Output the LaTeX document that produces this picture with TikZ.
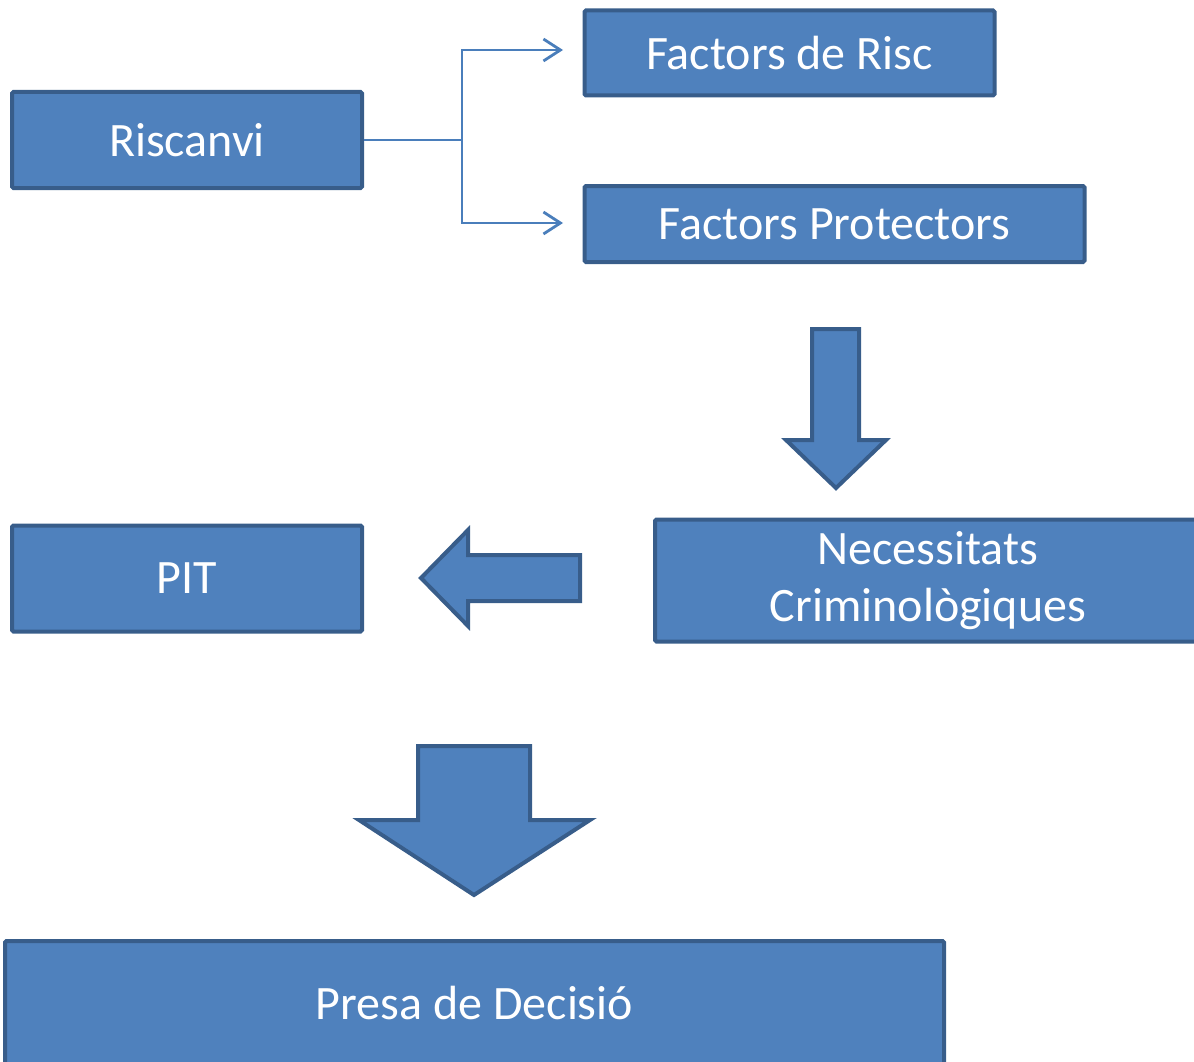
\documentclass[tikz,border=0pt]{standalone}
\usepackage{fontspec}
\setmainfont{Carlito}
\usetikzlibrary{arrows.meta}
\definecolor{boxfill}{HTML}{4F81BD}
\definecolor{boxline}{HTML}{385D8A}
\definecolor{conn}{HTML}{4A7EBB}
\begin{document}
\begin{tikzpicture}[x=1pt,y=-1pt,
  box/.style={draw=boxline,fill=boxfill,line width=4pt,rounded corners=1.5pt,inner sep=0pt,
    text=white,font=\fontsize{48}{57}\selectfont,align=center},
  blockarrow/.style={draw=boxline,fill=boxfill,line width=4pt,line join=miter},
  connector/.style={draw=conn,line width=2.8pt},
  tip/.style={-{Straight Barb[length=17pt,width=22pt,line width=2.8pt]}}]
\useasboundingbox (0,0) rectangle (1194,1062);
\begin{scope}
\clip (0,0) rectangle (1194,1062);
\node[box,minimum width=350pt,minimum height=96pt] (riscanvi) at (187,140) {Riscanvi};
\node[box,minimum width=410pt,minimum height=85pt] (risc) at (789.5,53) {Factors de Risc};
\node[box,minimum width=500pt,minimum height=76pt] (prot) at (834.5,224) {Factors Protectors};
\node[box,minimum width=350pt,minimum height=106pt] (pit) at (187,578.5) {PIT};
\node[box,minimum width=546pt,minimum height=122pt] (nec) at (928,580.5) {Necessitats\\Criminològiques};
\node[box,minimum width=939pt,minimum height=124pt] (presa) at (474.5,1003) {Presa de Decisió};

\coordinate (split) at (462,140);
\coordinate (endrisc) at (563,50);
\coordinate (endprot) at (563,223);
\draw[connector] (riscanvi.east) -- (split);
\draw[connector,tip] (split) -- (split |- endrisc) -- (endrisc);
\draw[connector,tip] (split) -- (split |- endprot) -- (endprot);

% block arrow down 1
\draw[blockarrow] (812,329) -- (859,329) -- (859,440) -- (886,440) -- (836,488) -- (786,440) -- (812,440) -- cycle;
% block arrow left
\draw[blockarrow] (580,555) -- (580,601) -- (468,601) -- (468,626) -- (421,578) -- (468,530) -- (468,555) -- cycle;
% block arrow down 2
\draw[blockarrow] (418,746) -- (530,746) -- (530,820) -- (590,820) -- (474,895) -- (359,820) -- (418,820) -- cycle;
\end{scope}
\end{tikzpicture}
\end{document}
